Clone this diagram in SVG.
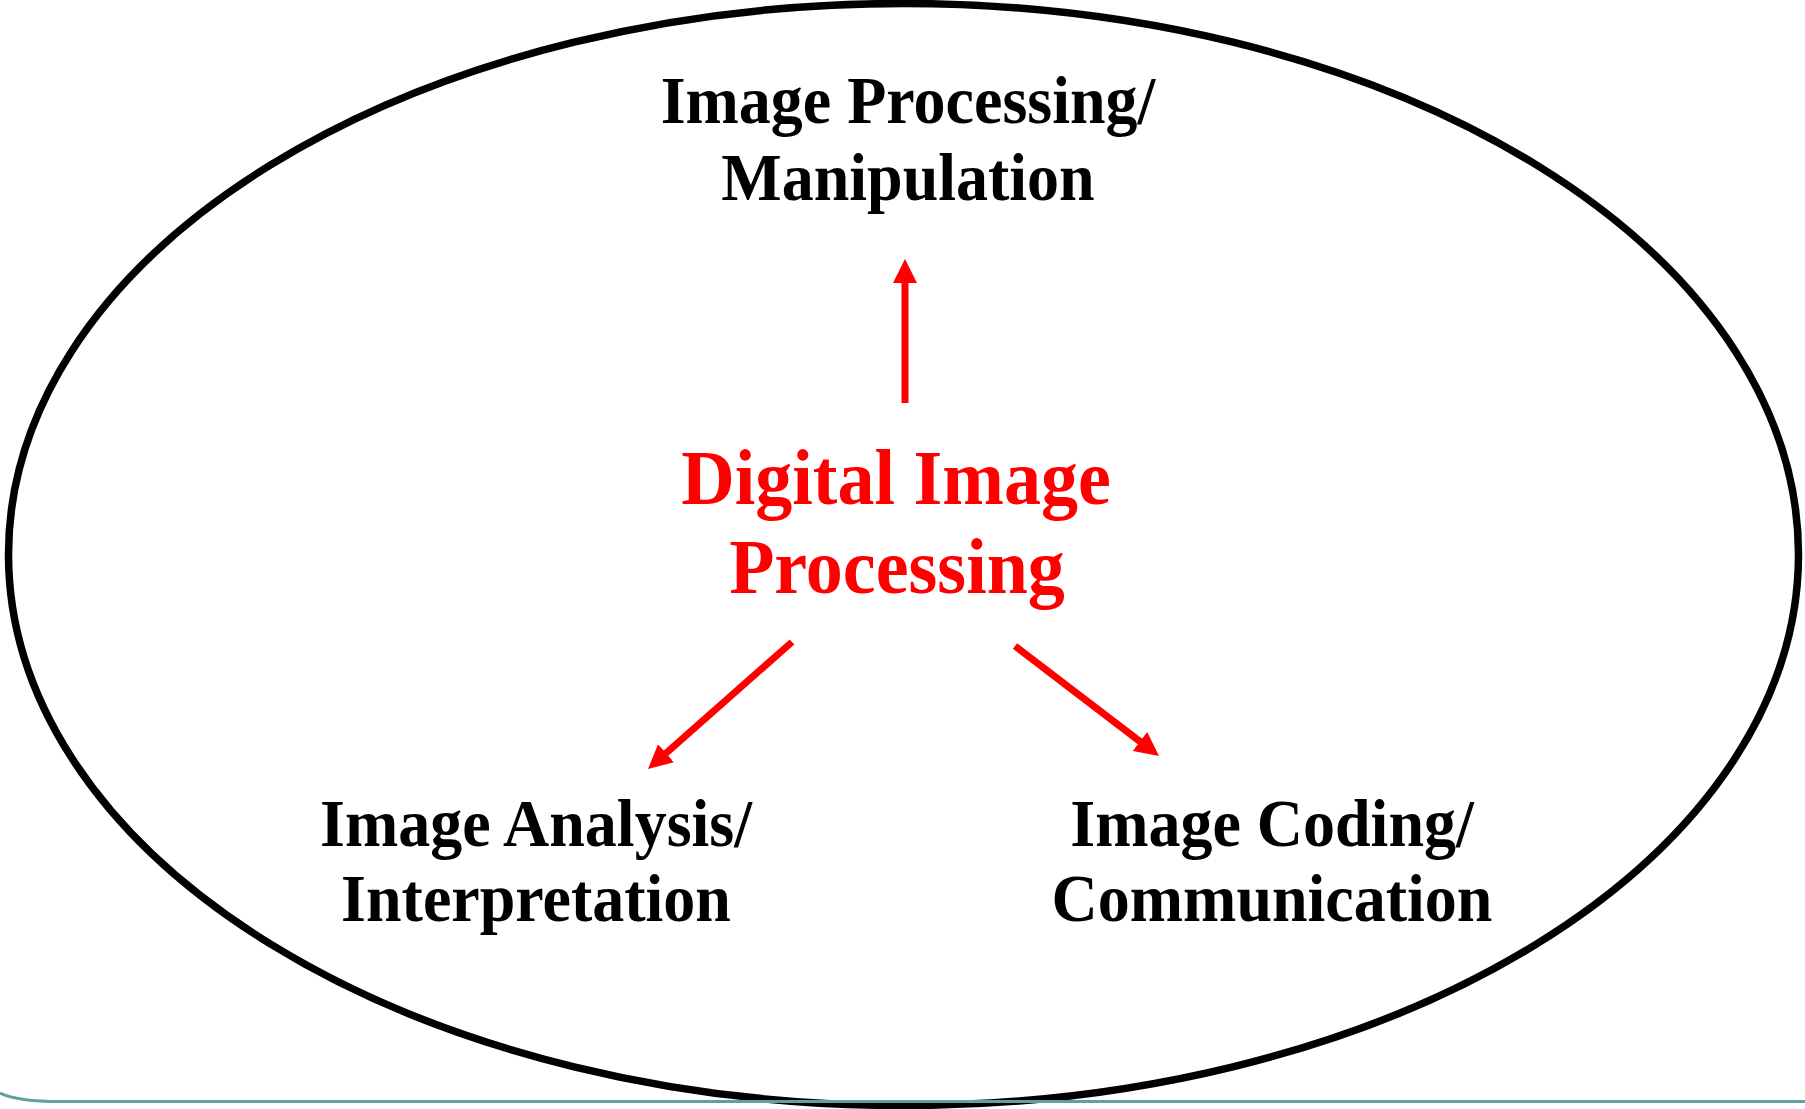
<svg xmlns="http://www.w3.org/2000/svg" width="1805" height="1109" viewBox="0 0 1805 1109">
  <style>
    .lbl { font-family: "Liberation Serif", "Times New Roman", serif; font-weight: bold; text-anchor: middle; }
    .black { fill: #000000; font-size: 64px; }
    .red { fill: #ff0000; font-size: 74px; }
    .arrow { stroke: #ff0000; stroke-width: 7; fill: none; }
  </style>
  <defs>
    <marker id="head" markerUnits="userSpaceOnUse" markerWidth="24" markerHeight="24" refX="4" refY="12" orient="auto">
      <path d="M0,0 L24,12 L0,24 z" fill="#ff0000"/>
    </marker>
  </defs>
  <rect width="1805" height="1109" fill="#ffffff"/>

  <!-- enclosing ellipse -->
  <g id="boundary">
    <ellipse cx="903.5" cy="554.5" rx="895" ry="551" fill="none" stroke="#000000" stroke-width="7.5"/>
  </g>

  <!-- slide footer rule -->
  <path d="M0,1093 Q18,1101.5 60,1101.5 L1805,1101.5" fill="none" stroke="#5fa29b" stroke-width="3"/>

  <!-- labels are slightly tall: a small vertical stretch about each baseline -->
  <g id="center">
    <text class="lbl red" transform="translate(896,504) scale(1,1.06)">Digital Image</text>
    <text class="lbl red" transform="translate(897,593) scale(1,1.06)">Processing</text>
  </g>

  <g id="manipulation">
    <text class="lbl black" transform="translate(908,123) scale(1,1.06)">Image Processing/</text>
    <text class="lbl black" transform="translate(908,200) scale(1,1.06)">Manipulation</text>
  </g>

  <g id="analysis">
    <text class="lbl black" transform="translate(536,846) scale(1,1.06)">Image Analysis/</text>
    <text class="lbl black" transform="translate(536,921) scale(1,1.06)">Interpretation</text>
  </g>

  <g id="coding">
    <text class="lbl black" transform="translate(1272,846) scale(1,1.06)">Image Coding/</text>
    <text class="lbl black" transform="translate(1272,921) scale(1,1.06)">Communication</text>
  </g>

  <g id="connectors">
    <line class="arrow" x1="905" y1="403" x2="905" y2="279" marker-end="url(#head)"/>
    <line class="arrow" x1="792" y1="642" x2="663" y2="755.8" marker-end="url(#head)"/>
    <line class="arrow" x1="1015" y1="646" x2="1143.1" y2="743.9" marker-end="url(#head)"/>
  </g>
</svg>
